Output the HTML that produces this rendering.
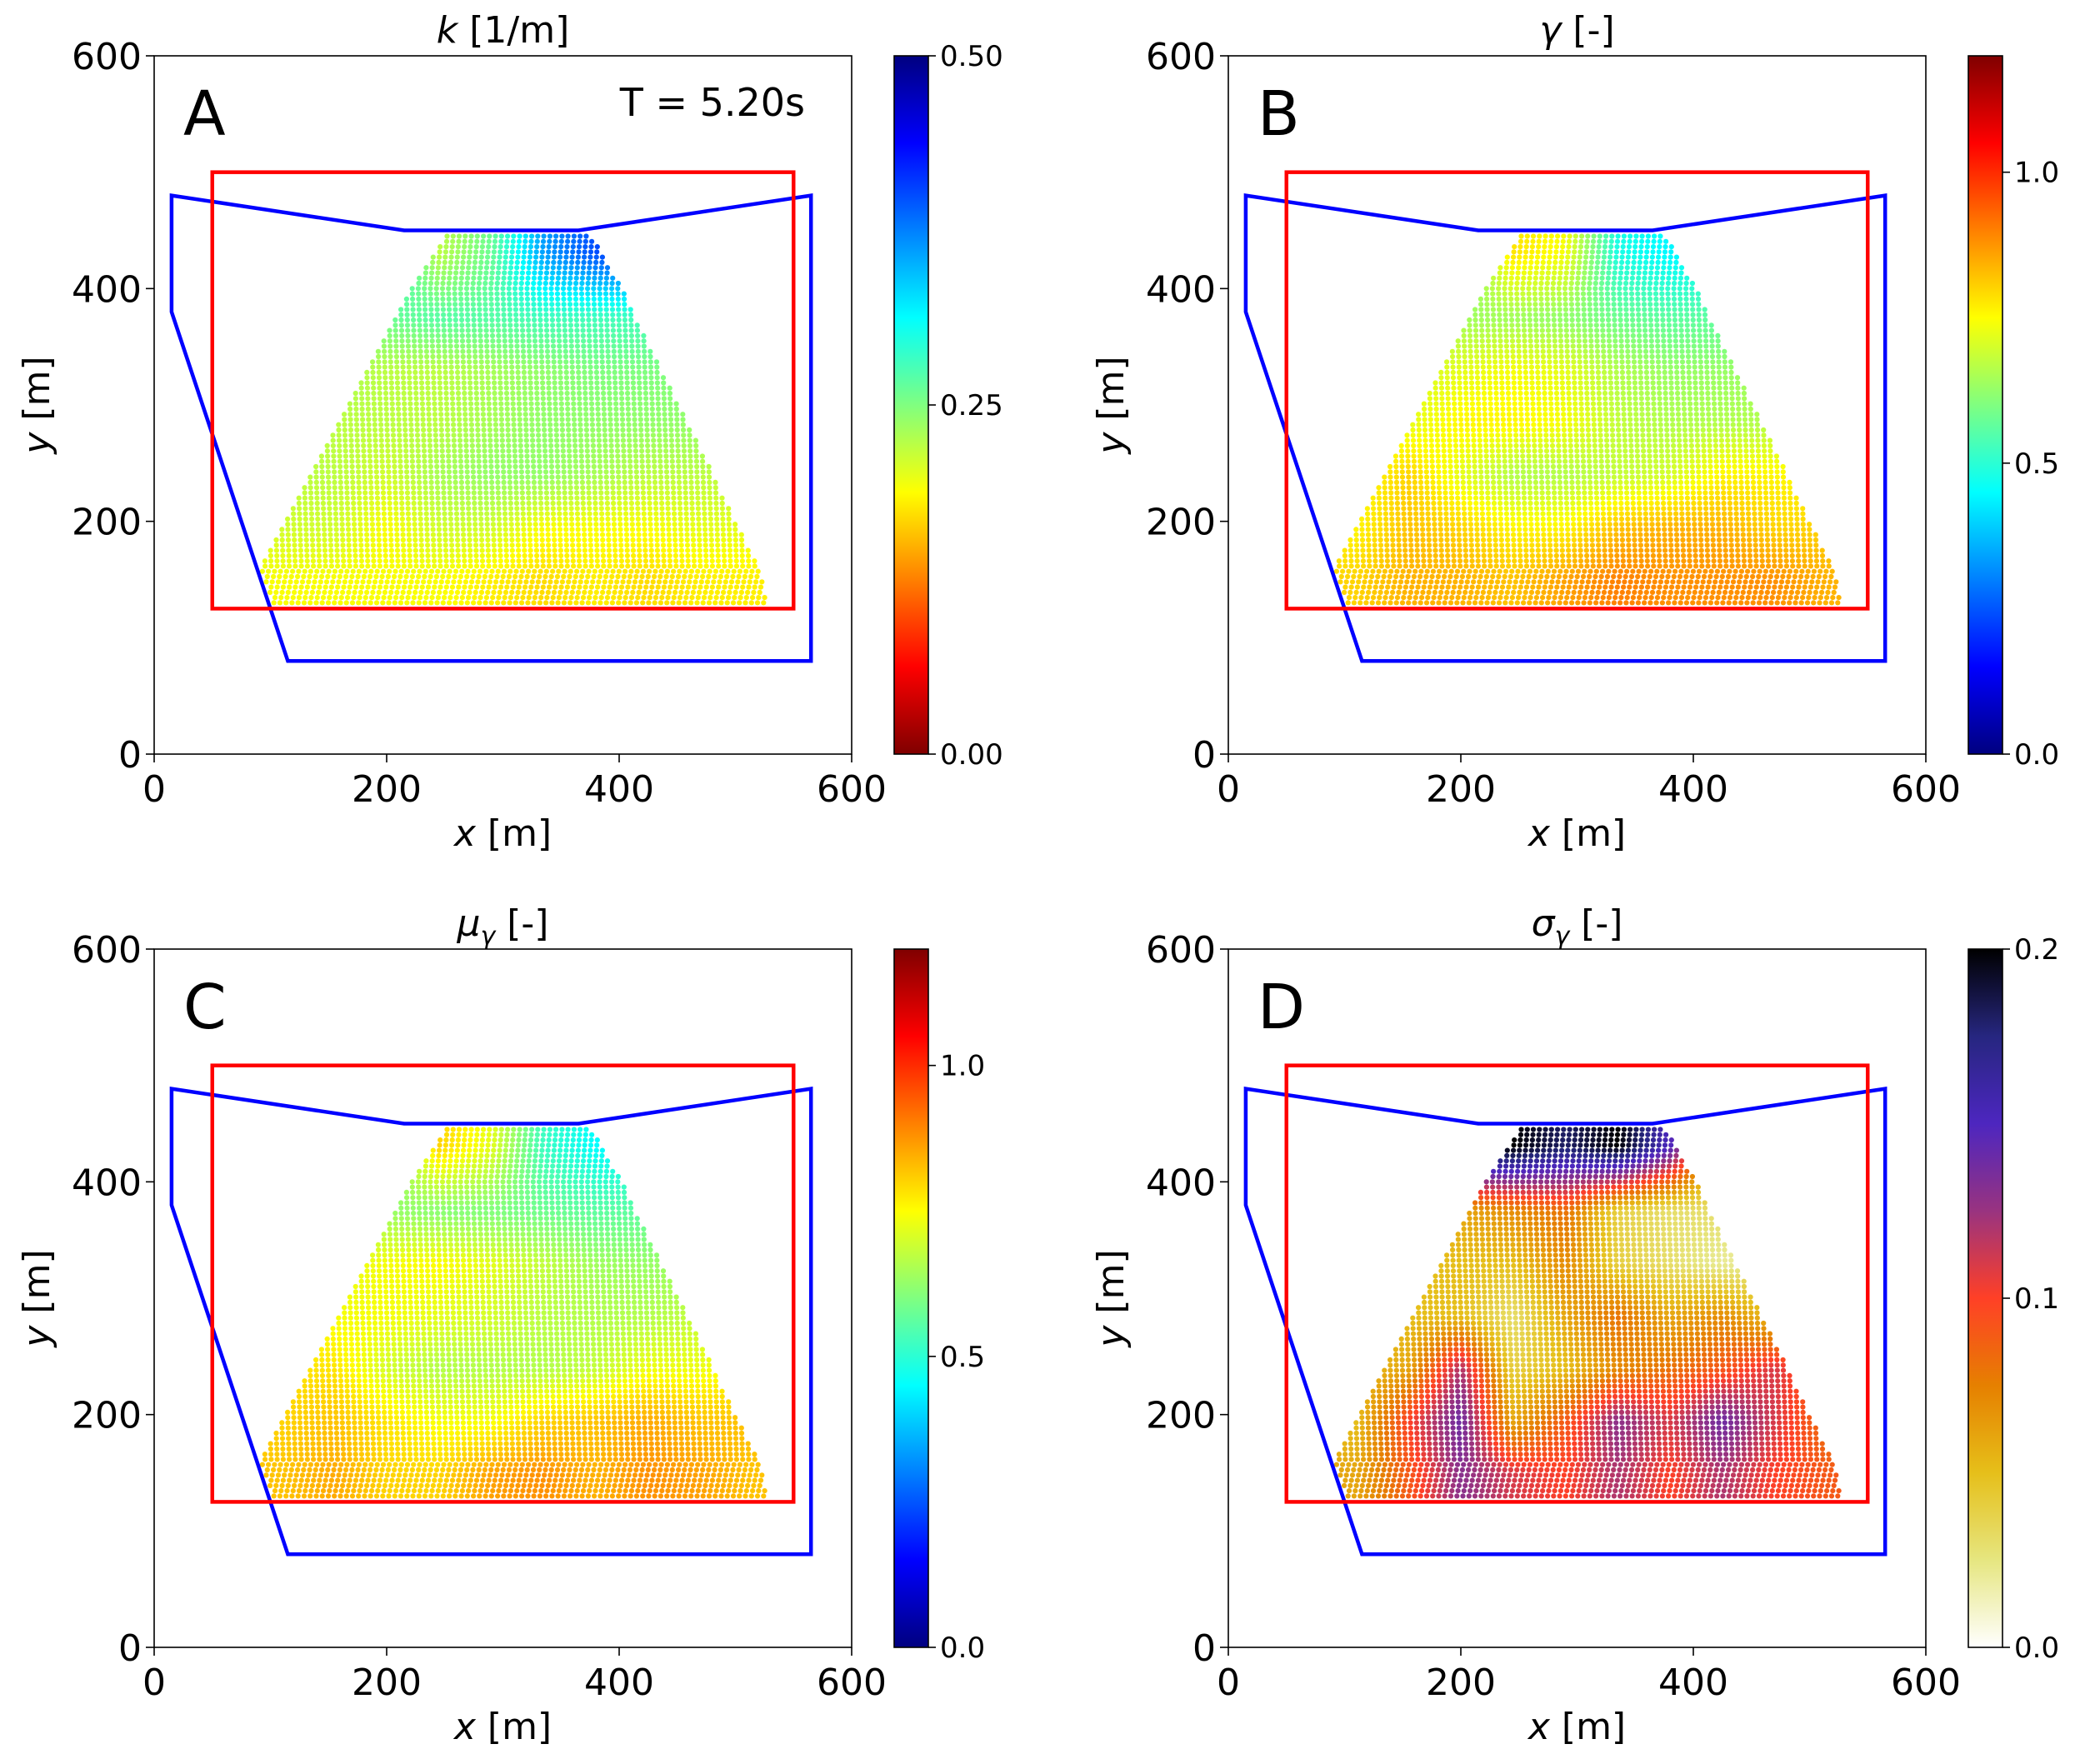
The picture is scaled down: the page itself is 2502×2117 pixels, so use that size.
<!DOCTYPE html>
<html><head><meta charset="utf-8"><style>
html,body{margin:0;padding:0;background:#fff}
svg{display:block}
text{font-family:"DejaVu Sans","Liberation Sans",sans-serif;fill:#000}
</style></head>
<body>
<svg id="fig" width="2502" height="2117" viewBox="0 0 2502 2117" xmlns="http://www.w3.org/2000/svg"></svg>
<script>
// ---- data ----
const gridRowY = [150,195,240,285,330,375,430];
const gridColX = [110,155,200,245,290,335,380,425,470,515];
const edgeY = [130,160,400,445];
const edgeLeftX = [103,92,222,252];
const edgeRightX = [528,520,402,376];
const kValues = [
[0.19,0.19,0.19,0.19,0.18,0.17,0.18,0.17,0.18,0.18],
[0.21,0.21,0.19,0.21,0.21,0.19,0.19,0.19,0.20,0.20],
[0.22,0.22,0.21,0.23,0.24,0.24,0.23,0.22,0.22,0.22],
[0.22,0.22,0.22,0.22,0.23,0.24,0.24,0.24,0.24,0.24],
[0.23,0.23,0.22,0.22,0.23,0.24,0.25,0.25,0.25,0.25],
[0.26,0.26,0.26,0.27,0.27,0.28,0.28,0.28,0.28,0.28],
[0.30,0.30,0.30,0.22,0.26,0.36,0.40,0.42,0.42,0.42]];
const gammaValues = [
[0.80,0.84,0.84,0.82,0.86,0.90,0.88,0.88,0.88,0.84],
[0.76,0.82,0.80,0.76,0.76,0.82,0.84,0.84,0.80,0.80],
[0.74,0.80,0.72,0.66,0.66,0.68,0.70,0.76,0.76,0.74],
[0.72,0.72,0.76,0.76,0.74,0.68,0.66,0.66,0.66,0.66],
[0.70,0.70,0.72,0.74,0.72,0.66,0.63,0.63,0.63,0.63],
[0.66,0.66,0.64,0.64,0.62,0.58,0.56,0.56,0.56,0.56],
[0.58,0.58,0.58,0.78,0.74,0.48,0.44,0.44,0.44,0.44]];
const muValues = [
[0.82,0.85,0.80,0.80,0.86,0.88,0.84,0.88,0.86,0.82],
[0.80,0.82,0.78,0.74,0.74,0.80,0.82,0.85,0.82,0.82],
[0.78,0.78,0.70,0.66,0.66,0.66,0.68,0.73,0.73,0.75],
[0.74,0.74,0.74,0.72,0.70,0.67,0.66,0.66,0.68,0.68],
[0.72,0.72,0.74,0.75,0.72,0.68,0.64,0.63,0.63,0.63],
[0.63,0.63,0.63,0.61,0.60,0.58,0.56,0.56,0.56,0.56],
[0.60,0.60,0.60,0.80,0.72,0.52,0.45,0.44,0.44,0.44]];
const sigmaValues = [
[0.06,0.09,0.13,0.11,0.10,0.12,0.10,0.12,0.10,0.09],
[0.05,0.10,0.14,0.06,0.09,0.13,0.11,0.14,0.11,0.08],
[0.05,0.06,0.12,0.04,0.05,0.07,0.08,0.09,0.11,0.08],
[0.05,0.05,0.05,0.03,0.06,0.08,0.06,0.07,0.05,0.05],
[0.05,0.05,0.05,0.05,0.07,0.04,0.03,0.02,0.02,0.02],
[0.06,0.06,0.06,0.07,0.08,0.04,0.03,0.03,0.03,0.03],
[0.20,0.20,0.20,0.20,0.18,0.20,0.15,0.05,0.05,0.05]];
const axisTicks = [0,200,400,600];
const zoneX = [15,15,115,565,565,365,215];
const zoneY = [480,380,80,80,480,450,450];
const boxX = [50,550];
const boxY = [125,500];
const kTicks = ["0.00","0.25","0.50"];
const kTickVals = [0,0.25,0.5];
const gTicks = ["0.0","0.5","1.0"];
const gTickVals = [0,0.5,1.0];
const sTicks = ["0.0","0.1","0.2"];
const sTickVals = [0,0.1,0.2];

// ---- colormaps ----
function cl(v){return Math.max(0,Math.min(1,v));}
function jet(t){t=cl(t);return [cl(1.5-Math.abs(4*t-3)),cl(1.5-Math.abs(4*t-2)),cl(1.5-Math.abs(4*t-1))];}
const cmrStops=[[0,0,0],[0.15,0.15,0.5],[0.3,0.15,0.75],[0.6,0.2,0.5],[1,0.25,0.15],[0.9,0.5,0],[0.9,0.75,0.1],[0.9,0.9,0.5],[1,1,1]];
function cmrR(t){t=1-cl(t);const p=t*8,i=Math.min(7,Math.floor(p)),f=p-i;const a=cmrStops[i],b=cmrStops[i+1];return [a[0]+(b[0]-a[0])*f,a[1]+(b[1]-a[1])*f,a[2]+(b[2]-a[2])*f];}
function css(c){return 'rgb('+c.map(v=>Math.round(v*255)).join(',')+')';}

const NS='http://www.w3.org/2000/svg';
const svg=document.getElementById('fig');
function el(tag,attrs,parent){const e=document.createElementNS(NS,tag);for(const k in attrs)e.setAttribute(k,attrs[k]);(parent||svg).appendChild(e);return e;}

const W=837,H=838;
function interpEdge(y,xs){for(let i=0;i<edgeY.length-1;i++){if(y<=edgeY[i+1]){const f=(y-edgeY[i])/(edgeY[i+1]-edgeY[i]);return xs[i]+(xs[i+1]-xs[i])*f;}}return xs[xs.length-1];}
function locate(arr,v){if(v<=arr[0])return [0,0];if(v>=arr[arr.length-1])return [arr.length-2,1];for(let i=0;i<arr.length-1;i++){if(v<=arr[i+1])return [i,(v-arr[i])/(arr[i+1]-arr[i])];}return [arr.length-2,1];}
function field(vals,x,y){const [i,fy]=locate(gridRowY,y),[j,fx]=locate(gridColX,x);
 const a=vals[i][j],b=vals[i][j+1],c=vals[i+1][j],d=vals[i+1][j+1];
 return (a*(1-fx)+b*fx)*(1-fy)+(c*(1-fx)+d*fx)*fy;}

const panels=[
 {left:185,top:67,letter:'A',title:'k',titleSuffix:' [1/m]',sub:'',values:kValues,cmap:t=>jet(1-t),vmax:0.5,ticks:kTicks,tickVals:kTickVals,time:true,name:'panel-a'},
 {left:1474,top:67,letter:'B',title:'γ',titleSuffix:' [-]',sub:'',values:gammaValues,cmap:jet,vmax:1.2,ticks:gTicks,tickVals:gTickVals,name:'panel-b'},
 {left:185,top:1139,letter:'C',title:'μ',titleSuffix:' [-]',sub:'γ',values:muValues,cmap:jet,vmax:1.2,ticks:gTicks,tickVals:gTickVals,name:'panel-c'},
 {left:1474,top:1139,letter:'D',title:'σ',titleSuffix:' [-]',sub:'γ',values:sigmaValues,cmap:cmrR,vmax:0.2,ticks:sTicks,tickVals:sTickVals,name:'panel-d'}
];

panels.forEach((p,pi)=>{
 const g=el('g',{});
 
 
 const L=p.left,T=p.top,B=T+H;
 const sx=v=>L+v/600*W, sy=v=>B-v/600*H;
 const dots=el('g',{},g);
 
 
 let row=0;
 for(let y=130;y<=446;y+=4.5,row++){
  const xl=interpEdge(y,edgeLeftX),xr=interpEdge(y,edgeRightX);
  const off=(row%2)*2.6;
  for(let x=xl+off;x<=xr;x+=5.2){
   const v=field(p.values,x,y);
   el('circle',{cx:sx(x).toFixed(1),cy:sy(y).toFixed(1),r:3.1,fill:css(p.cmap(v/p.vmax))},dots);
  }
 }
 const zp=zoneX.map((x,i)=>sx(x).toFixed(1)+','+sy(zoneY[i]).toFixed(1)).join(' ');
 const zone=el('polygon',{points:zp,fill:'none',stroke:'#0000ff','stroke-width':4.5},g);
 
 
 const box=el('rect',{x:sx(boxX[0]),y:sy(boxY[1]),width:sx(boxX[1])-sx(boxX[0]),height:sy(boxY[0])-sy(boxY[1]),fill:'none',stroke:'#ff0000','stroke-width':4.5},g);
 
 
 const fr=el('rect',{x:L,y:T,width:W,height:H,fill:'none',stroke:'#000','stroke-width':1.6},g);
 
 
 axisTicks.forEach(t=>{
  el('line',{x1:sx(t),y1:B,x2:sx(t),y2:B+10,stroke:'#000','stroke-width':1.6},g);
  const xt=el('text',{x:sx(t),y:B+57,'font-size':44,'text-anchor':'middle'},g);xt.textContent=t;
  
  
  el('line',{x1:L-10,y1:sy(t),x2:L,y2:sy(t),stroke:'#000','stroke-width':1.6},g);
  const yt=el('text',{x:L-15,y:sy(t)+16,'font-size':44,'text-anchor':'end'},g);yt.textContent=t;
  
  
 });
 const xl=el('text',{x:L+W/2,y:T+948,'font-size':44,'text-anchor':'middle'},g);
 xl.innerHTML='<tspan font-style="italic">x</tspan> [m]';
 
 
 const yl=el('text',{x:0,y:0,'font-size':44,'text-anchor':'middle',transform:'translate('+(L-126)+','+(T+H/2)+') rotate(-90)'},g);
 yl.innerHTML='<tspan font-style="italic">y</tspan> [m]';
 
 
 const tt=el('text',{x:L+W/2,y:T-16,'font-size':44,'text-anchor':'middle'},g);
 tt.innerHTML='<tspan font-style="italic">'+p.title+'</tspan>'+(p.sub?'<tspan font-style="italic" font-size="30" dy="10">'+p.sub+'</tspan><tspan dy="-10">'+p.titleSuffix+'</tspan>':p.titleSuffix);
 
 
 const lt=el('text',{x:L+35,y:T+95,'font-size':74},g);lt.textContent=p.letter;
 
 
 if(p.time){const tm=el('text',{x:L+781,y:T+72,'font-size':46,'text-anchor':'end'},g);tm.textContent='T = 5.20s';
  
  }
 const cx=L+888,cw=41;
 const gid='grad'+pi;
 const lg=el('linearGradient',{id:gid,x1:0,y1:1,x2:0,y2:0},g);
 for(let i=0;i<=40;i++){el('stop',{offset:i/40,'stop-color':css(p.cmap(i/40))},lg);}
 const cb=el('rect',{x:cx,y:T,width:cw,height:H,fill:'url(#'+gid+')',stroke:'#000','stroke-width':1.6},g);
 
 
 p.tickVals.forEach((v,i)=>{
  const yy=B-v/p.vmax*H;
  el('line',{x1:cx+cw,y1:yy,x2:cx+cw+9,y2:yy,stroke:'#000','stroke-width':1.6},g);
  const ct=el('text',{x:cx+cw+14,y:yy+12,'font-size':34},g);ct.textContent=p.ticks[i];
  
  
 });
});
</script>
</body></html>
